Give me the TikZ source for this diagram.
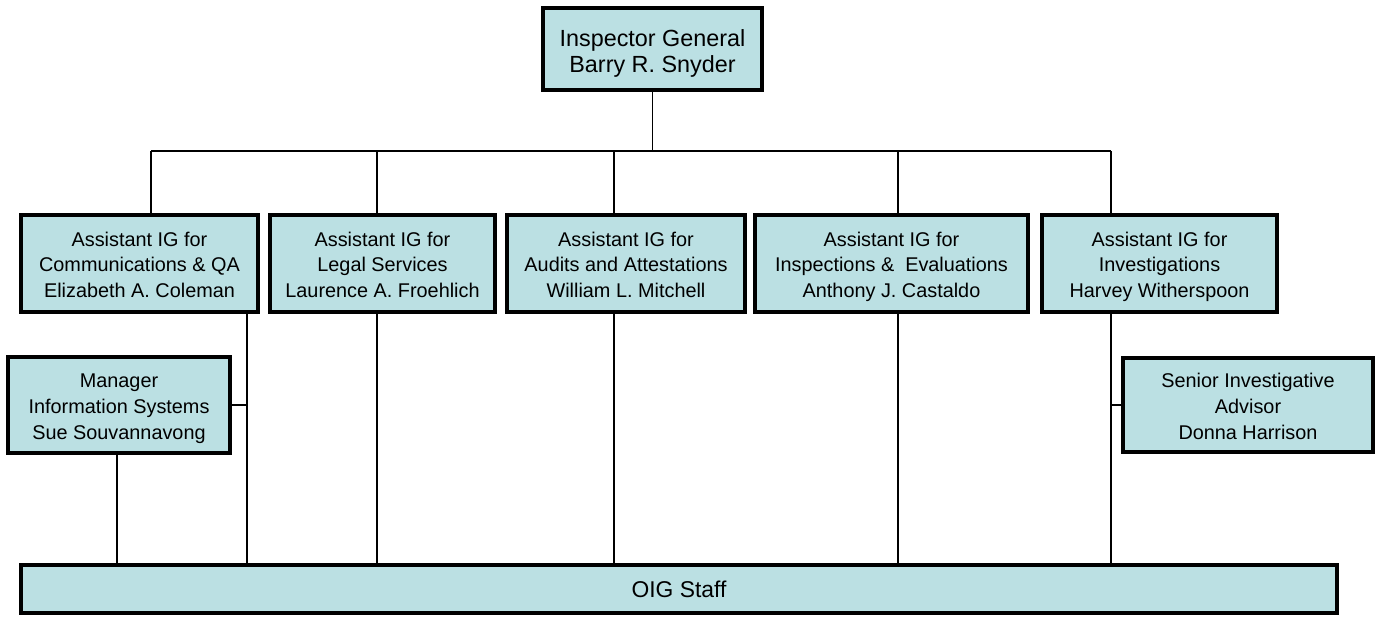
\documentclass[tikz,border=0pt]{standalone}
\usepackage{fontspec}
\setmainfont{Liberation Sans}
\usepackage{xcolor}
\definecolor{boxfill}{HTML}{BBE0E3}

\begin{document}
\begin{tikzpicture}[
  x=0.02cm, y=-0.02cm,
  every node/.style = {font=\fontsize{11.3}{14.7}\selectfont},
  unit/.style = {draw, line width=1.9pt, fill=boxfill, align=center, inner sep=0pt},
  trio/.style = {unit, text height=43.4pt, text depth=4.4pt},
  aig/.style = {trio, minimum height=1.94cm},
  link/.style = {line width=0.6pt}
]
  \useasboundingbox (0,0) rectangle (1381,618);

  \node[unit, text height=31.7pt, text depth=4.5pt, minimum width=4.38cm, minimum height=1.64cm, font=\fontsize{13.3}{15}\selectfont] (ig) at (652.5,49) {Inspector General\\Barry R. Snyder};

  \node[aig, minimum width=4.74cm] (a1) at (139.5,263.5) {Assistant IG for\\Communications \& QA\\Elizabeth A. Coleman};
  \node[aig, minimum width=4.50cm] (a2) at (382.5,263.5) {Assistant IG for\\Legal Services\\Laurence A. Froehlich};
  \node[aig, minimum width=4.76cm] (a3) at (626,263.5) {Assistant IG for\\Audits and Attestations\\William L. Mitchell};
  \node[aig, minimum width=5.46cm] (a4) at (891.5,263.5) {Assistant IG for\\Inspections \&\ \ Evaluations\\Anthony J. Castaldo};
  \node[aig, minimum width=4.70cm] (a5) at (1159.5,263.5) {Assistant IG for\\Investigations\\Harvey Witherspoon};

  \node[trio, minimum width=4.44cm, minimum height=1.92cm] (mgr) at (119,405) {Manager\\Information Systems\\Sue Souvannavong};
  \node[trio, minimum width=5.00cm, minimum height=1.88cm] (sia) at (1248,405) {Senior Investigative\\Advisor\\Donna Harrison};

  \node[unit, minimum width=26.32cm, minimum height=0.96cm, font=\fontsize{13}{15}\selectfont] (staff) at (679,589) {OIG Staff};

  % bus under the Inspector General
  \coordinate (b1) at (151,151);
  \coordinate (b2) at (377,151);
  \coordinate (b3) at (614,151);
  \coordinate (b4) at (898,151);
  \coordinate (b5) at (1111,151);

  \draw[link] (ig.south) -- (ig.south |- b1);
  \draw[link] (b1) -- (b5);
  \draw[link] (b1) -- (b1 |- a1.north);
  \draw[link] (b2) -- (b2 |- a2.north);
  \draw[link] (b3) -- (b3 |- a3.north);
  \draw[link] (b4) -- (b4 |- a4.north);
  \draw[link] (b5) -- (b5 |- a5.north);

  % drops to the staff bar
  \coordinate (d0) at (117,565);
  \coordinate (d1) at (247,565);
  \coordinate (d2) at (377,565);
  \coordinate (d3) at (614,565);
  \coordinate (d4) at (898,565);
  \coordinate (d5) at (1111,565);

  \draw[link] (d0 |- mgr.south) -- (d0);
  \draw[link] (d1 |- a1.south) -- (d1);
  \draw[link] (d2 |- a2.south) -- (d2);
  \draw[link] (d3 |- a3.south) -- (d3);
  \draw[link] (d4 |- a4.south) -- (d4);
  \draw[link] (d5 |- a5.south) -- (d5);

  \draw[link] (mgr.east) -- (mgr.east -| d1);
  \draw[link] (sia.west) -- (sia.west -| d5);
\end{tikzpicture}
\end{document}
